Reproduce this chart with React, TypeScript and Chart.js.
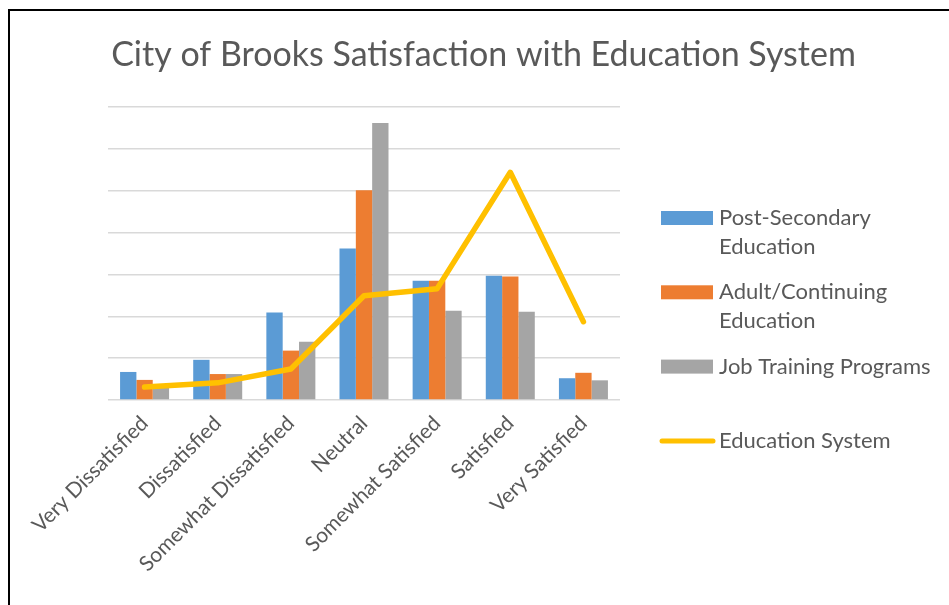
import React, { useEffect, useRef } from "react";
import { Chart, registerables } from "chart.js";

Chart.register(...registerables);

const TITLE = "City of Brooks Satisfaction with Education System";
const categories = [
  "Very Dissatisfied",
  "Dissatisfied",
  "Somewhat Dissatisfied",
  "Neutral",
  "Somewhat Satisfied",
  "Satisfied",
  "Very Satisfied",
];
const postSecondary = [0.67, 0.96, 2.09, 3.62, 2.85, 2.97, 0.52];
const adultContinuing = [0.48, 0.62, 1.18, 5.01, 2.85, 2.95, 0.65];
const jobTraining = [0.29, 0.62, 1.39, 6.62, 2.13, 2.11, 0.47];
const educationSystem = [0.31, 0.41, 0.74, 2.49, 2.66, 5.44, 1.87];
const seriesNames = [
  "Post-Secondary Education",
  "Adult/Continuing Education",
  "Job Training Programs",
  "Education System",
];
const legendLines = [
  ["Post-Secondary", "Education"],
  ["Adult/Continuing", "Education"],
  ["Job Training Programs"],
  ["Education System"],
];
const yMax = 7;
const yStep = 1;

const FONT = "Lato, 'Open Sans', sans-serif";
const TEXT_COLOR = "#595959";

const titlePlugin = {
  id: "customTitle",
  afterDraw(chart: any) {
    const ctx = chart.ctx;
    ctx.save();
    ctx.font = `34px ${FONT}`;
    ctx.fillStyle = TEXT_COLOR;
    ctx.textAlign = "center";
    ctx.textBaseline = "alphabetic";
    ctx.fillText(TITLE, chart.width / 2 + 4, 55);
    ctx.restore();
  },
};

const legendPlugin = {
  id: "sideLegend",
  afterDraw(chart: any) {
    const { ctx, chartArea } = chart;
    const x0 = chartArea.right + 41;
    ctx.save();
    ctx.font = `22px ${FONT}`;
    ctx.textBaseline = "middle";
    ctx.textAlign = "left";
    chart.data.datasets.forEach((ds: any, i: number) => {
      const yc = chartArea.top + 111 + i * 74.3;
      if (ds.type === "line") {
        ctx.strokeStyle = ds.borderColor;
        ctx.lineWidth = 5;
        ctx.lineCap = "round";
        ctx.beginPath();
        ctx.moveTo(x0 + 1, yc);
        ctx.lineTo(x0 + 52, yc);
        ctx.stroke();
      } else {
        ctx.fillStyle = ds.backgroundColor;
        ctx.fillRect(x0, yc - 7, 52, 14);
      }
      ctx.fillStyle = TEXT_COLOR;
      legendLines[i].forEach((t, j) => {
        ctx.fillText(t, x0 + 58, yc + j * 28.5);
      });
    });
    ctx.restore();
  },
};

export default function App() {
  const ref = useRef<HTMLCanvasElement | null>(null);
  useEffect(() => {
    if (!ref.current) return;
    const chart = new Chart(ref.current, {
      type: "bar",
      data: {
        labels: categories,
        datasets: [
          {
            type: "bar",
            label: seriesNames[0],
            data: postSecondary,
            backgroundColor: "#5B9BD5",
            order: 1,
          },
          {
            type: "bar",
            label: seriesNames[1],
            data: adultContinuing,
            backgroundColor: "#ED7D31",
            order: 1,
          },
          {
            type: "bar",
            label: seriesNames[2],
            data: jobTraining,
            backgroundColor: "#A5A5A5",
            order: 1,
          },
          {
            type: "line",
            label: seriesNames[3],
            data: educationSystem,
            borderColor: "#FFC000",
            backgroundColor: "#FFC000",
            borderWidth: 5.5,
            pointRadius: 0,
            borderCapStyle: "round",
            borderJoinStyle: "round",
            tension: 0,
            order: 0,
          },
        ] as any,
      },
      options: {
        animation: false,
        responsive: false,
        maintainAspectRatio: false,
        layout: { padding: { left: 98, right: 329, top: 96, bottom: 0 } },
        datasets: {
          bar: { categoryPercentage: 0.67, barPercentage: 1 },
        },
        plugins: {
          legend: { display: false },
          title: { display: false },
          tooltip: { enabled: false },
        },
        scales: {
          x: {
            grid: { display: false },
            border: { display: false },
            afterFit: (s: any) => {
              s.height = 205;
            },
            ticks: {
              minRotation: 45,
              maxRotation: 45,
              autoSkip: false,
              color: TEXT_COLOR,
              font: { family: FONT, size: 21 },
            },
          },
          y: {
            min: 0,
            max: yMax,
            afterFit: (s: any) => {
              s.width = 0;
            },
            ticks: { display: false, stepSize: yStep },
            border: { display: false },
            grid: { color: "#D9D9D9", lineWidth: 1.5, drawTicks: false },
          },
        },
      },
      plugins: [titlePlugin, legendPlugin],
    });
    return () => chart.destroy();
  }, []);

  return (
    <div
      style={{
        position: "fixed",
        left: 8,
        top: 9,
        width: 941,
        height: 596,
        borderLeft: "2px solid #000",
        borderTop: "2px solid #000",
        background: "#fff",
      }}
    >
      <canvas ref={ref} width={939} height={594} style={{ display: "block" }} />
    </div>
  );
}
